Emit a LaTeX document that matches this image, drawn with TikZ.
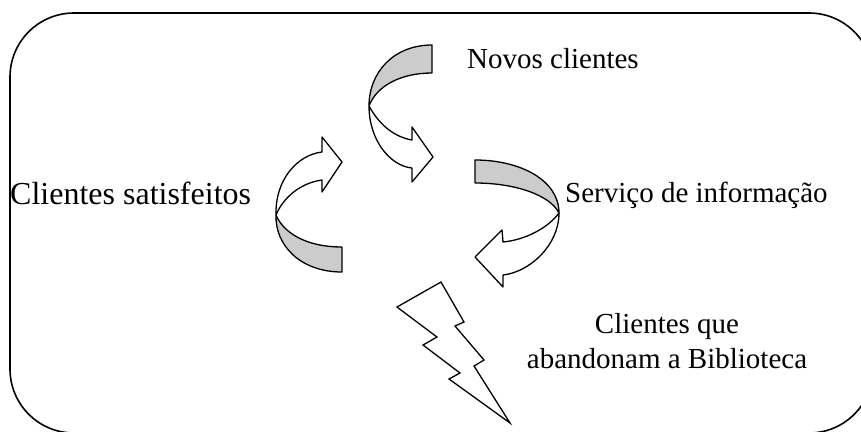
\documentclass[tikz,border=0pt]{standalone}
\usepackage{fontspec}
\setmainfont{Liberation Serif}
\begin{document}
\begin{tikzpicture}[x=1pt,y=-1pt,
  frame/.style={line width=1.6pt,rounded corners=64pt},
  ribbon/.style={line width=1.3pt,line join=round},
  back/.style={ribbon,fill=gray!40},
  bolt/.style={line width=1.3pt,line join=miter},
  label/.style={inner sep=0pt,font=\fontsize{29}{35}\selectfont}]
\useasboundingbox (0,0) rectangle (861,431);
\begin{scope}
  \clip (0,0) rectangle (861,431);
  \draw[frame] (10,13) rectangle (873,433);
\end{scope}

% upper cycle arrow (bends left, points right-down)
\coordinate (p1) at (369,106);
\draw[back] (432,45) -- (432,73) .. controls (402,73) and (377,85) .. (p1)
  .. controls (369,72) and (394,45) .. (432,45) -- cycle;
\draw[ribbon,fill=white] (p1) .. controls (380,126) and (395,137) .. (412,140)
  -- (412,127) -- (433,157) -- (412,182) -- (412,168)
  .. controls (390,166) and (369,140) .. (p1);

% right cycle arrow (bends right, points left-down)
\coordinate (p2) at (559,213);
\draw[back] (475,160) -- (475,183) .. controls (515,183) and (550,195) .. (p2)
  .. controls (559,180) and (520,160) .. (475,160) -- cycle;
\draw[ribbon,fill=white] (p2) .. controls (548,228) and (525,240) .. (503,242)
  -- (502,230) -- (475,257) -- (503,287) -- (503,275)
  .. controls (530,272) and (559,245) .. (p2);

% left cycle arrow (bends left, points right-up)
\coordinate (p3) at (276,215);
\draw[back] (342,272) -- (342,247) .. controls (305,247) and (283,232) .. (p3)
  .. controls (275,245) and (300,272) .. (342,272) -- cycle;
\draw[ribbon,fill=white] (p3) .. controls (283,198) and (300,183) .. (322,180)
  -- (322,192) -- (342,162) -- (322,137) -- (322,152)
  .. controls (297,155) and (275,180) .. (p3);

% lightning bolt
\draw[bolt] (397,307) -- (441,282) -- (464,322) -- (455,326) -- (484,360)
  -- (474,366) -- (510,423) -- (449,379) -- (460,373) -- (423,345)
  -- (437,337) -- cycle;

\node[label,anchor=base west] (novos) at (467,68) {Novos clientes};
\node[label,anchor=base west] (servico) at (565,202) {Serviço de informação};
\node[label,anchor=base west,font=\fontsize{32}{38}\selectfont] (satisf) at (10,204)
  {Clientes satisfeitos};
\node[label,anchor=base,align=center] (aband) at (667,368) {Clientes que\\abandonam a Biblioteca};
\end{tikzpicture}
\end{document}
